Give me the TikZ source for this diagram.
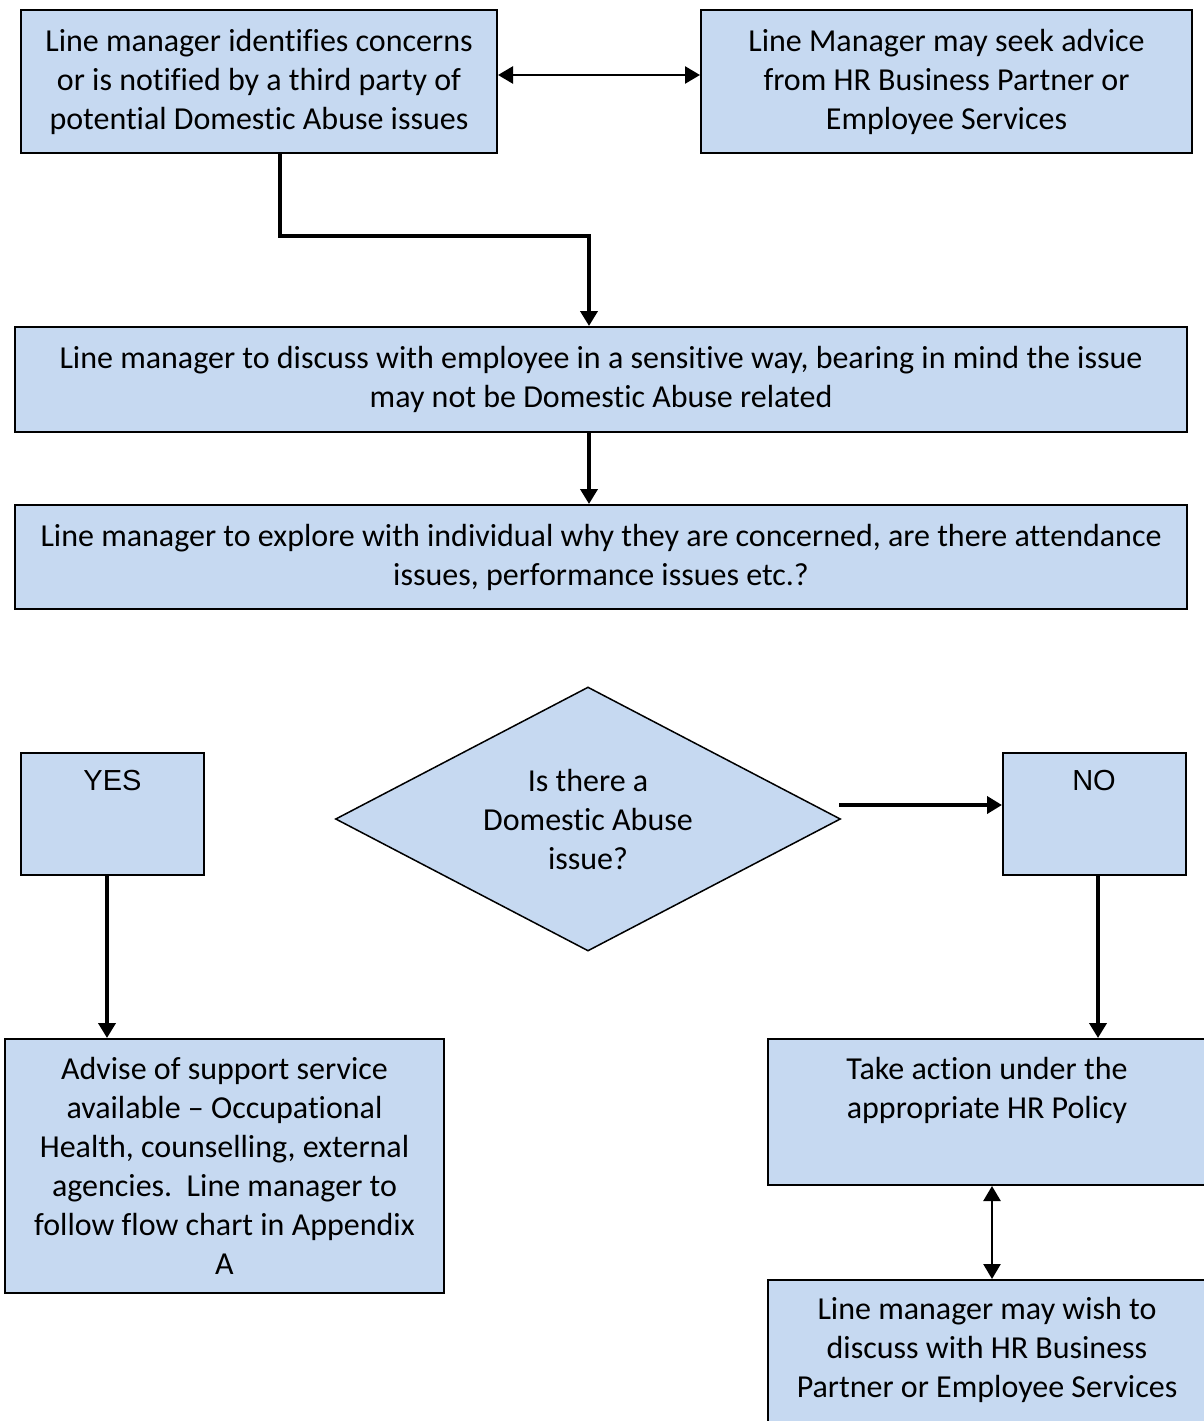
\documentclass[tikz,border=0pt]{standalone}
\usepackage{fontspec}
\setmainfont{Carlito}[Ligatures={NoCommon}]
\newfontfamily\arialfont{Liberation Sans}
\usetikzlibrary{shapes.geometric,arrows.meta,calc}
\definecolor{boxblue}{RGB}{198,217,241}
\begin{document}
\begin{tikzpicture}[x=1pt,y=-1pt,
  box/.style={draw=black,line width=2pt,fill=boxblue,inner sep=0pt,align=center,
    font=\fontsize{32}{39}\selectfont},
  lbl/.style={inner sep=0pt,align=center,font=\fontsize{32}{39}\selectfont},
  yn/.style={inner sep=0pt,font=\arialfont\fontsize{29}{35}\selectfont},
  dec/.style={diamond,draw=black,line width=1.5pt,fill=boxblue,inner sep=0pt,aspect=1.9,
    minimum width=505pt,minimum height=264pt,align=center,font=\fontsize{32}{39}\selectfont},
  conn/.style={line width=4pt,-{Triangle[length=15pt,width=17pt]}},
  dconn/.style={line width=2.5pt,{Triangle[length=15pt,width=17pt]}-{Triangle[length=15pt,width=17pt]}}
]
\useasboundingbox[fill=white] (0,0) rectangle (1203,1421);

\node[box,minimum width=476pt,minimum height=143pt] (A) at (259,81.5)
  {Line manager identifies concerns\\or is notified by a third party of\\potential Domestic Abuse issues};
\node[box,minimum width=491pt,minimum height=143pt] (B) at (946.5,81.5)
  {Line Manager may seek advice\\from HR Business Partner or\\Employee Services};
\node[box,minimum width=1172pt,minimum height=105pt] (C) at (601,379.5)
  {Line manager to discuss with employee in a sensitive way, bearing in mind the issue\\may not be Domestic Abuse related};
\node[box,minimum width=1172pt,minimum height=104pt] (D) at (601,557)
  {Line manager to explore with individual why they are concerned, are there attendance\\issues, performance issues etc.?};
\node[dec] (dia) at (588,819) {Is there a\\Domestic Abuse\\issue?};

\node[box,minimum width=183pt,minimum height=122pt] (yes) at (112.5,814) {};
\node[yn] (yest) at (112.5,781) {YES};
\node[box,minimum width=183pt,minimum height=122pt] (no) at (1094.5,814) {};
\node[yn] (not) at (1094,781) {NO};

\node[box,minimum width=439pt,minimum height=254pt] (E) at (224.5,1166)
  {Advise of support service\\available -- Occupational\\Health, counselling, external\\agencies.\ \ Line manager to\\follow flow chart in Appendix\\A};
\node[box,minimum width=446pt,minimum height=146pt] (F) at (991,1112) {};
\node[lbl] (Ft) at (987,1090.5) {Take action under the\\appropriate HR Policy};
\node[box,minimum width=446pt,minimum height=180pt] (G) at (991,1370) {};
\node[lbl] (Gt) at (987,1350) {Line manager may wish to\\discuss with HR Business\\Partner or Employee Services};

\draw[dconn] ([yshift=6.5pt]A.east) coordinate (as) -- (as -| B.west);
\draw[conn] ([xshift=21pt]A.south) -- ++(0,82) -| ([xshift=-12pt]C.north);
\draw[conn] ([xshift=-12pt]C.south) -- ([xshift=-12pt]D.north);
\draw[conn] ([shift={(-2pt,14pt)}]dia.east) coordinate (ds) -- (ds -| no.west);
\draw[conn] ([xshift=-5.5pt]yes.south) coordinate (ys) -- (ys |- E.north);
\draw[conn] ([xshift=3.5pt]no.south) coordinate (ns) -- (ns |- F.north);
\draw[dconn] (992,1185) coordinate (fs) (F.south -| fs) -- (G.north -| fs);
\end{tikzpicture}
\end{document}
